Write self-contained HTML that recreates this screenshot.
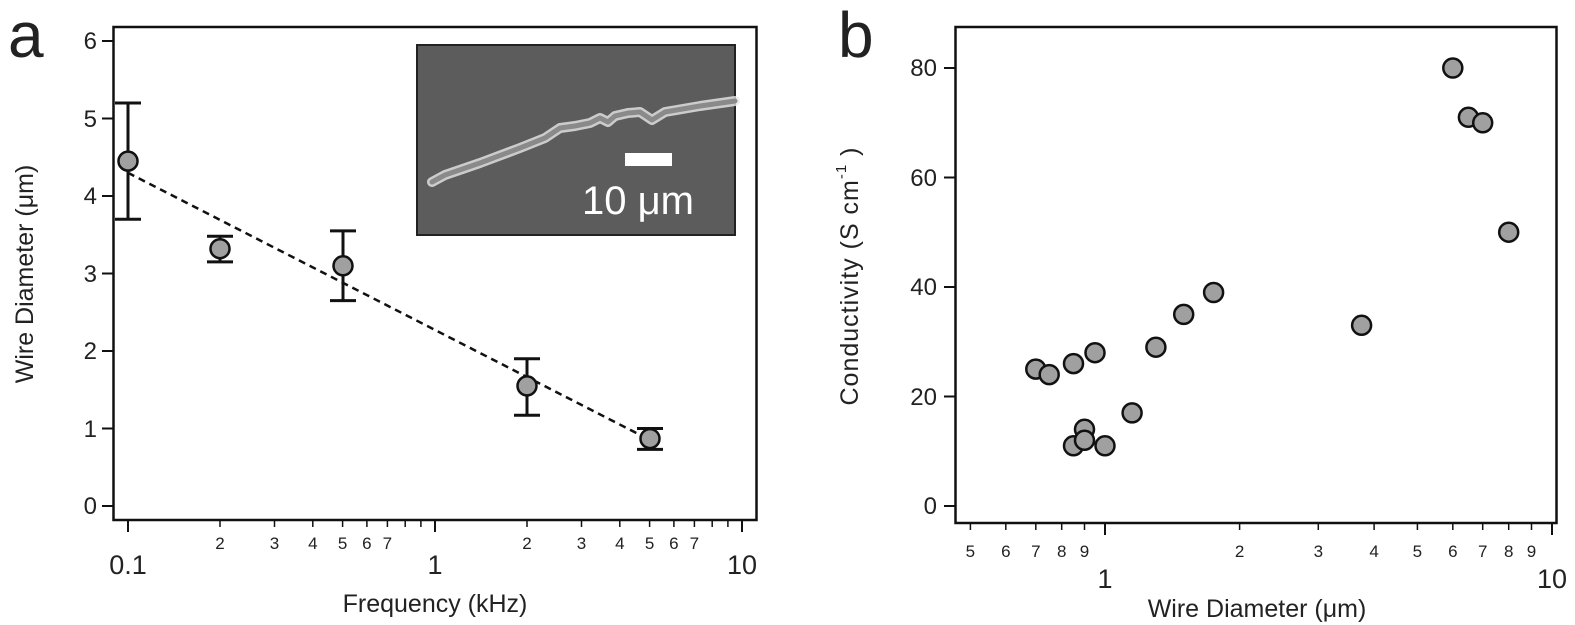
<!DOCTYPE html>
<html><head><meta charset="utf-8"><style>
html,body{margin:0;padding:0;background:#fff;}
svg{display:block;}
text{font-family:"Liberation Sans","DejaVu Sans",sans-serif;fill:#222;}
</style></head><body>
<svg width="1575" height="625" viewBox="0 0 1575 625" xmlns="http://www.w3.org/2000/svg">
<!-- Panel a -->
<text x="8" y="57" font-size="64">a</text>
<rect x="113.5" y="27" width="643" height="493" fill="none" stroke="#111" stroke-width="2.5"/>
<g stroke="#111" stroke-width="2">
<line x1="102" y1="506" x2="113" y2="506"/><line x1="102" y1="428.5" x2="113" y2="428.5"/><line x1="102" y1="351" x2="113" y2="351"/><line x1="102" y1="273.5" x2="113" y2="273.5"/><line x1="102" y1="196" x2="113" y2="196"/><line x1="102" y1="118.5" x2="113" y2="118.5"/><line x1="102" y1="41" x2="113" y2="41"/>
<line x1="128" y1="520" x2="128" y2="532"/><line x1="435" y1="520" x2="435" y2="532"/><line x1="742" y1="520" x2="742" y2="532"/>
</g>
<g stroke="#111" stroke-width="1.5">
<line x1="220" y1="520" x2="220" y2="527"/><line x1="274.5" y1="520" x2="274.5" y2="527"/><line x1="312.8" y1="520" x2="312.8" y2="527"/><line x1="342.6" y1="520" x2="342.6" y2="527"/><line x1="366.9" y1="520" x2="366.9" y2="527"/><line x1="387.4" y1="520" x2="387.4" y2="527"/><line x1="405.2" y1="520" x2="405.2" y2="527"/><line x1="420.9" y1="520" x2="420.9" y2="527"/>
<line x1="527" y1="520" x2="527" y2="527"/><line x1="581.5" y1="520" x2="581.5" y2="527"/><line x1="619.8" y1="520" x2="619.8" y2="527"/><line x1="649.6" y1="520" x2="649.6" y2="527"/><line x1="673.9" y1="520" x2="673.9" y2="527"/><line x1="694.4" y1="520" x2="694.4" y2="527"/><line x1="712.2" y1="520" x2="712.2" y2="527"/><line x1="727.9" y1="520" x2="727.9" y2="527"/>
</g>
<g font-size="24" text-anchor="end">
<text x="97" y="514">0</text><text x="97" y="437">1</text><text x="97" y="359">2</text><text x="97" y="282">3</text><text x="97" y="204">4</text><text x="97" y="127">5</text><text x="97" y="49">6</text>
</g>
<g font-size="17" text-anchor="middle">
<text x="220" y="549">2</text><text x="274.5" y="549">3</text><text x="312.8" y="549">4</text><text x="342.6" y="549">5</text><text x="366.9" y="549">6</text><text x="387.4" y="549">7</text>
<text x="527" y="549">2</text><text x="581.5" y="549">3</text><text x="619.8" y="549">4</text><text x="649.6" y="549">5</text><text x="673.9" y="549">6</text><text x="694.4" y="549">7</text>
</g>
<g font-size="27" text-anchor="middle">
<text x="128" y="574">0.1</text><text x="435" y="574">1</text><text x="742" y="574">10</text>
</g>
<text x="435" y="612" font-size="25" text-anchor="middle">Frequency (kHz)</text>
<text transform="translate(33,274) rotate(-90)" font-size="25" text-anchor="middle">Wire Diameter (μm)</text>
<!-- inset -->
<rect x="417" y="45" width="318" height="190" fill="#5c5c5c" stroke="#222" stroke-width="2"/>
<path d="M432,182 L445,175 L480,163 L520,148 L545,138 L560,128 L575,126 L590,123 L600,118 L608,122 L615,116 L628,113 L640,112 L652,120 L665,112 L700,106 L735,101" fill="none" stroke="#e8e8e8" stroke-width="10" stroke-linecap="round" stroke-linejoin="round" opacity="0.8"/>
<path d="M432,182 L445,175 L480,163 L520,148 L545,138 L560,128 L575,126 L590,123 L600,118 L608,122 L615,116 L628,113 L640,112 L652,120 L665,112 L700,106 L735,101" fill="none" stroke="#8a8a8a" stroke-width="5" stroke-linecap="round" stroke-linejoin="round"/>
<rect x="625" y="153" width="47" height="13" fill="#fff"/>
<text x="582" y="214" font-size="40" style="fill:#fff">10 μm</text>
<!-- fit line -->
<line x1="128" y1="172.8" x2="650" y2="440" stroke="#111" stroke-width="2.5" stroke-dasharray="7,5"/>
<g stroke="#111" stroke-width="3" fill="none">
<path d="M128 103V219.3M115 103H141M115 219.3H141"/>
<path d="M220 236.3V261.9M207 236.3H233M207 261.9H233"/>
<path d="M343 230.9V300.6M330 230.9H356M330 300.6H356"/>
<path d="M527 358.8V415.3M514 358.8H540M514 415.3H540"/>
<path d="M650 428.5V449.4M637 428.5H663M637 449.4H663"/>
</g>
<g fill="#a0a0a0" stroke="#111" stroke-width="2.5">
<circle cx="128" cy="161.1" r="9.5"/><circle cx="220" cy="248.7" r="9.5"/><circle cx="343" cy="265.8" r="9.5"/><circle cx="527" cy="385.9" r="9.5"/><circle cx="650" cy="438.6" r="9.5"/>
</g>
<!-- Panel b -->
<text x="838" y="57" font-size="64">b</text>
<rect x="955.5" y="27" width="601" height="496" fill="none" stroke="#111" stroke-width="2.5"/>
<g stroke="#111" stroke-width="2">
<line x1="944" y1="506" x2="955" y2="506"/><line x1="944" y1="396.5" x2="955" y2="396.5"/><line x1="944" y1="287" x2="955" y2="287"/><line x1="944" y1="177.5" x2="955" y2="177.5"/><line x1="944" y1="68" x2="955" y2="68"/>
<line x1="1105" y1="523" x2="1105" y2="535"/><line x1="1552" y1="523" x2="1552" y2="535"/>
</g>
<g stroke="#111" stroke-width="1.5">
<line x1="970.4" y1="523" x2="970.4" y2="530"/><line x1="1005.8" y1="523" x2="1005.8" y2="530"/><line x1="1035.8" y1="523" x2="1035.8" y2="530"/><line x1="1061.7" y1="523" x2="1061.7" y2="530"/><line x1="1084.5" y1="523" x2="1084.5" y2="530"/>
<line x1="1239.6" y1="523" x2="1239.6" y2="530"/><line x1="1318.3" y1="523" x2="1318.3" y2="530"/><line x1="1374.1" y1="523" x2="1374.1" y2="530"/><line x1="1417.4" y1="523" x2="1417.4" y2="530"/><line x1="1452.8" y1="523" x2="1452.8" y2="530"/><line x1="1482.7" y1="523" x2="1482.7" y2="530"/><line x1="1508.7" y1="523" x2="1508.7" y2="530"/><line x1="1531.5" y1="523" x2="1531.5" y2="530"/>
</g>
<g font-size="24" text-anchor="end">
<text x="937" y="514">0</text><text x="937" y="405">20</text><text x="937" y="295">40</text><text x="937" y="186">60</text><text x="937" y="76">80</text>
</g>
<g font-size="17" text-anchor="middle">
<text x="970.4" y="557">5</text><text x="1005.8" y="557">6</text><text x="1035.8" y="557">7</text><text x="1061.7" y="557">8</text><text x="1084.5" y="557">9</text>
<text x="1239.6" y="557">2</text><text x="1318.3" y="557">3</text><text x="1374.1" y="557">4</text><text x="1417.4" y="557">5</text><text x="1452.8" y="557">6</text><text x="1482.7" y="557">7</text><text x="1508.7" y="557">8</text><text x="1531.5" y="557">9</text>
</g>
<g font-size="27" text-anchor="middle">
<text x="1105" y="588">1</text><text x="1552" y="588">10</text>
</g>
<text x="1257" y="617" font-size="25" text-anchor="middle">Wire Diameter (μm)</text>
<text transform="translate(858,276) rotate(-90)" font-size="25" text-anchor="middle" letter-spacing="1">Conductivity (S cm<tspan dy="-12" font-size="15">-1</tspan><tspan dy="12"> )</tspan></text>
<g fill="#a0a0a0" stroke="#111" stroke-width="2.5">
<circle cx="1035.8" cy="369.1" r="9.5"/><circle cx="1049.2" cy="374.6" r="9.5"/><circle cx="1073.5" cy="363.6" r="9.5"/><circle cx="1095" cy="352.7" r="9.5"/>
<circle cx="1073.5" cy="445.8" r="9.5"/><circle cx="1084.5" cy="429.3" r="9.5"/><circle cx="1105" cy="445.8" r="9.5"/><circle cx="1084.5" cy="440.3" r="9.5"/>
<circle cx="1132.1" cy="412.9" r="9.5"/><circle cx="1155.9" cy="347.2" r="9.5"/><circle cx="1183.7" cy="314.4" r="9.5"/><circle cx="1213.6" cy="292.5" r="9.5"/>
<circle cx="1361.6" cy="325.3" r="9.5"/><circle cx="1452.8" cy="68" r="9.5"/><circle cx="1468.4" cy="117.3" r="9.5"/><circle cx="1482.7" cy="122.8" r="9.5"/><circle cx="1508.7" cy="232.2" r="9.5"/>
</g>
</svg>
</body></html>
